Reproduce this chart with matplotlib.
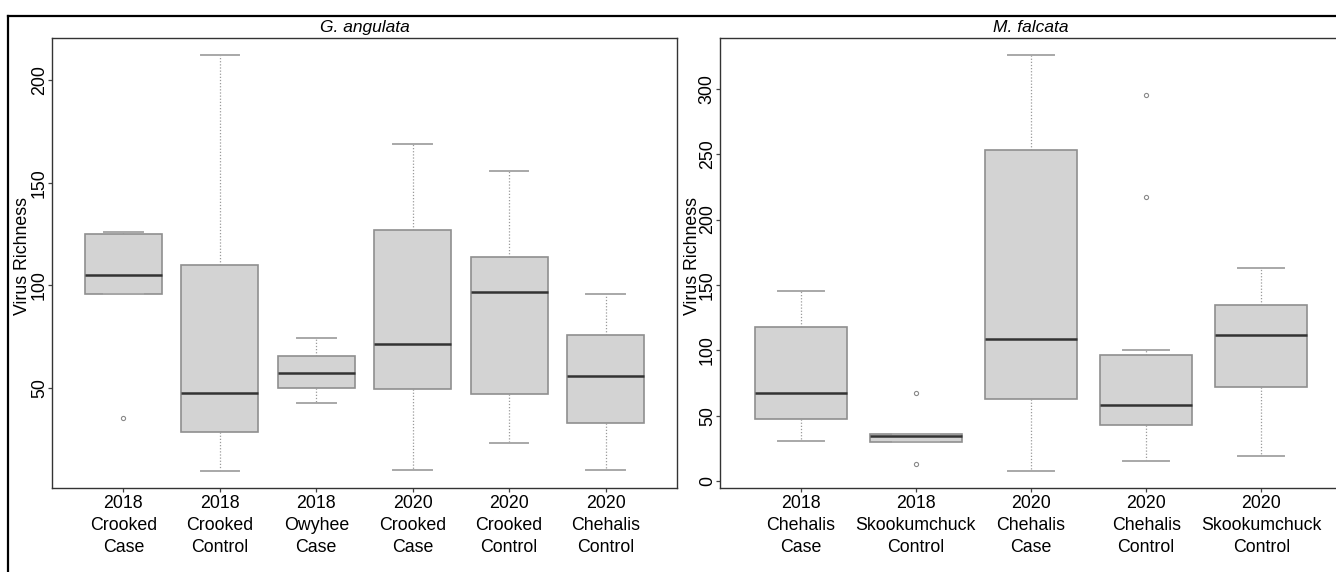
import numpy as np
import matplotlib.pyplot as plt
from matplotlib.lines import Line2D

plt.rcParams['font.family'] = ['Liberation Sans', 'DejaVu Sans']

# G. angulata
ga_labels = ["2018\nCrooked\nCase", "2018\nCrooked\nControl", "2018\nOwyhee\nCase",
             "2020\nCrooked\nCase", "2020\nCrooked\nControl", "2020\nChehalis\nControl"]
ga_lo = [96, 9.3, 42.4, 10, 23, 10]
ga_q1 = [96, 28.5, 49.8, 49.5, 47, 33]
ga_med = [105, 47.4, 57.4, 71.3, 96.7, 56]
ga_q3 = [125, 110, 65.7, 127, 113.6, 76]
ga_hi = [126, 212.5, 74.5, 169, 156, 96]
ga_out = [[35.4], [], [], [], [], []]

# M. falcata
mf_labels = ["2018\nChehalis\nCase", "2018\nSkookumchuck\nControl", "2020\nChehalis\nCase",
             "2020\nChehalis\nControl", "2020\nSkookumchuck\nControl"]
mf_lo = [31, 30, 7.6, 15.3, 19.3]
mf_q1 = [47.3, 30, 62.5, 42.7, 71.8]
mf_med = [67.2, 34.3, 108.9, 58.6, 111.7]
mf_q3 = [118, 36.3, 253, 96.6, 134.6]
mf_hi = [145.3, 36.3, 326, 100.5, 162.7]
mf_out = [[], [67.2, 13], [], [295, 217], []]


def panel(ax, labels, lo, q1, med, q3, hi, out, title, yticks):
    stats = []
    for i in range(len(labels)):
        stats.append(dict(whislo=lo[i], q1=q1[i], med=med[i], q3=q3[i],
                          whishi=hi[i], fliers=out[i]))
    n = len(labels)
    ax.bxp(stats, positions=np.arange(1, n + 1), widths=0.8, patch_artist=True,
           boxprops=dict(facecolor='#d3d3d3', edgecolor='#8f8f8f', linewidth=1.2),
           whiskerprops=dict(color='#9a9a9a', linestyle=(0, (1, 1.5)), linewidth=0.9),
           capprops=dict(color='#a8a8a8', linewidth=1.4),
           medianprops=dict(color='#333333', linewidth=1.8),
           flierprops=dict(marker='o', markersize=3, markerfacecolor='none',
                           markeredgecolor='#8a8a8a', markeredgewidth=0.8))
    allv = lo + hi + sum(out, [])
    r = max(allv) - min(allv)
    ax.set_ylim(min(allv) - 0.04 * r, max(allv) + 0.04 * r)
    ax.set_xlim(0.5 - 0.04 * n, n + 0.5 + 0.04 * n)
    ax.set_xticks(np.arange(1, n + 1))
    ax.set_xticklabels(labels, fontsize=12.8, linespacing=1.38)
    ax.set_yticks(yticks)
    ax.set_yticklabels([str(t) for t in yticks], rotation=90, va='center', fontsize=12.8)
    ax.tick_params(length=3, width=0.9, color='#444444')
    ax.tick_params(axis='x', pad=2)
    ax.tick_params(axis='y', pad=0)
    for s in ax.spines.values():
        s.set_color('#333333')
        s.set_linewidth(1.0)
    ax.set_ylabel('Virus Richness', fontsize=12.8)
    ax.set_title(title, fontsize=12.5, style='italic', pad=4.5)


fig = plt.figure(figsize=(13.36, 5.72), dpi=100)
W, H = 1336, 572
ax1 = fig.add_axes([52 / W, 1 - 488 / H, 625 / W, 450 / H])
ax2 = fig.add_axes([720 / W, 1 - 488 / H, 622 / W, 450 / H])
panel(ax1, ga_labels, ga_lo, ga_q1, ga_med, ga_q3, ga_hi, ga_out, 'G. angulata',
      [50, 100, 150, 200])
panel(ax2, mf_labels, mf_lo, mf_q1, mf_med, mf_q3, mf_hi, mf_out, 'M. falcata',
      [0, 50, 100, 150, 200, 250, 300])
ax1.yaxis.set_label_coords(-0.033, 0.516)
ax2.yaxis.set_label_coords(-0.031, 0.516)

# outer frame
fig.add_artist(Line2D([8 / W, 1], [1 - 15.5 / H, 1 - 15.5 / H], color='black', lw=1.6))
fig.add_artist(Line2D([8 / W, 8 / W], [0, 1 - 15.5 / H], color='black', lw=1.6))

fig.savefig('out.png', dpi=100)
